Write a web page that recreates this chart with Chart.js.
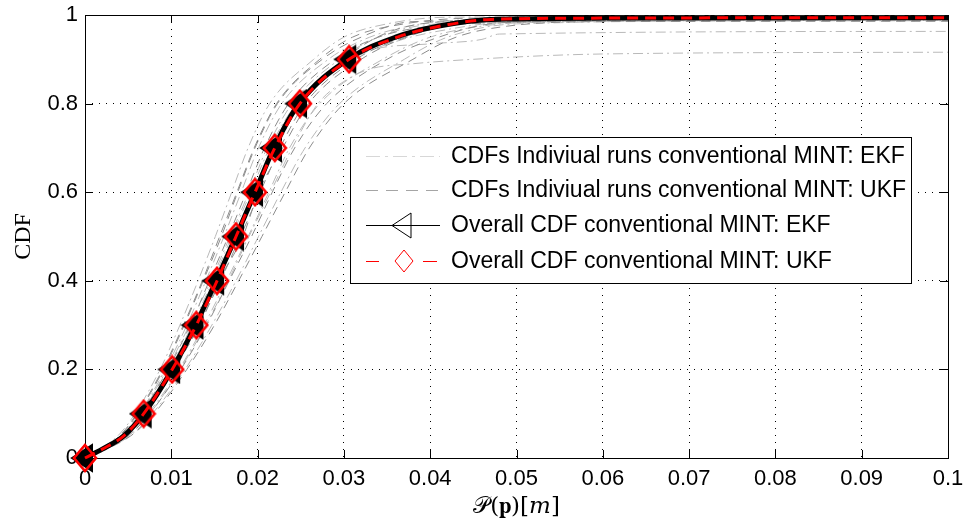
<!DOCTYPE html>
<html>
<head>
<meta charset="utf-8">
<script src="https://cdn.jsdelivr.net/npm/chart.js@4"></script>
<style>
  html, body { margin: 0; padding: 0; background: #fff; }
  #wrap { position: relative; width: 964px; height: 532px; }
</style>
</head>
<body>
<div id="wrap"><canvas id="cdfChart" width="964" height="532"></canvas></div>
<script>
// tick labels
const xTickLabels = ['0', '0.01', '0.02', '0.03', '0.04', '0.05', '0.06', '0.07', '0.08', '0.09', '0.1'];
const yTickLabels = ['0', '0.2', '0.4', '0.6', '0.8', '1'];

// overall CDFs (x read at each CDF level)
const mainLevels = [0, 0.02, 0.05, 0.1, 0.2, 0.3, 0.4, 0.5, 0.6, 0.7, 0.8, 0.9, 0.95, 0.975, 0.99, 0.993, 0.994];
const ekfMainX = [0, 0.002, 0.0045, 0.0068, 0.0101, 0.0128, 0.0152, 0.0175, 0.0197, 0.0219, 0.0248, 0.0305, 0.036, 0.041, 0.047, 0.06, 0.1];
const ukfMainX = [0, 0.002, 0.0045, 0.0068, 0.0101, 0.0129, 0.0153, 0.0175, 0.0197, 0.0220, 0.0249, 0.0306, 0.0362, 0.0412, 0.047, 0.06, 0.1];
const markerLevels = [0, 0.1, 0.2, 0.3, 0.4, 0.5, 0.6, 0.7, 0.8, 0.9];

// individual runs, [x, CDF]
const ekfRuns = [
  [[0, 0], [0.0038, 0.05], [0.0058, 0.1], [0.0087, 0.2], [0.0110, 0.3], [0.0131, 0.4], [0.0151, 0.5], [0.0170, 0.6], [0.0189, 0.7], [0.0214, 0.8], [0.0265, 0.9], [0.030, 0.95], [0.035, 0.98], [0.042, 0.995], [0.1, 0.998]],
  [[0, 0], [0.0041, 0.05], [0.0063, 0.1], [0.0093, 0.2], [0.0118, 0.3], [0.0140, 0.4], [0.0161, 0.5], [0.0181, 0.6], [0.0201, 0.7], [0.0228, 0.8], [0.0282, 0.9], [0.033, 0.95], [0.039, 0.98], [0.046, 0.99], [0.1, 0.992]],
  [[0, 0], [0.0047, 0.05], [0.0070, 0.1], [0.0099, 0.2], [0.0126, 0.3], [0.0150, 0.4], [0.0178, 0.5], [0.0195, 0.6], [0.0222, 0.7], [0.0250, 0.8], [0.0310, 0.9], [0.036, 0.94], [0.040, 0.96], [0.050, 0.985], [0.1, 0.99]],
  [[0, 0], [0.0049, 0.05], [0.0073, 0.1], [0.0109, 0.2], [0.0138, 0.3], [0.0164, 0.4], [0.0189, 0.5], [0.0213, 0.6], [0.0237, 0.7], [0.0272, 0.8], [0.0345, 0.9], [0.040, 0.95], [0.046, 0.975], [0.055, 0.985], [0.1, 0.987]],
  [[0, 0], [0.0052, 0.05], [0.0078, 0.1], [0.0116, 0.2], [0.0147, 0.3], [0.0175, 0.4], [0.0201, 0.5], [0.0227, 0.6], [0.0255, 0.7], [0.0295, 0.8], [0.0370, 0.9], [0.042, 0.95], [0.050, 0.98], [0.1, 0.99]],
  [[0, 0], [0.0050, 0.05], [0.0075, 0.1], [0.0110, 0.2], [0.0140, 0.3], [0.0166, 0.4], [0.0190, 0.5], [0.0215, 0.6], [0.0240, 0.7], [0.0270, 0.8], [0.0300, 0.85], [0.0330, 0.878], [0.038, 0.89], [0.045, 0.9], [0.060, 0.912], [0.1, 0.916]],
  [[0, 0], [0.0045, 0.05], [0.0066, 0.1], [0.0098, 0.2], [0.0124, 0.3], [0.0148, 0.4], [0.0170, 0.5], [0.0192, 0.6], [0.0214, 0.7], [0.0245, 0.8], [0.0290, 0.88], [0.033, 0.92], [0.040, 0.935], [0.046, 0.945], [0.048, 0.957], [0.1, 0.963]],
  [[0, 0], [0.0043, 0.05], [0.0064, 0.1], [0.0095, 0.2], [0.0121, 0.3], [0.0146, 0.4], [0.0168, 0.5], [0.0190, 0.6], [0.0211, 0.7], [0.0240, 0.8], [0.0295, 0.9], [0.034, 0.95], [0.041, 0.98], [0.1, 0.988]]
];
const ukfRuns = [
  [[0, 0], [0.0040, 0.05], [0.0060, 0.1], [0.0090, 0.2], [0.0114, 0.3], [0.0136, 0.4], [0.0156, 0.5], [0.0176, 0.6], [0.0196, 0.7], [0.0222, 0.8], [0.0272, 0.9], [0.031, 0.95], [0.037, 0.98], [0.045, 0.993], [0.1, 0.997]],
  [[0, 0], [0.0043, 0.05], [0.0065, 0.1], [0.0096, 0.2], [0.0122, 0.3], [0.0144, 0.4], [0.0166, 0.5], [0.0187, 0.6], [0.0208, 0.7], [0.0236, 0.8], [0.0290, 0.9], [0.034, 0.95], [0.040, 0.975], [0.050, 0.986], [0.1, 0.987]],
  [[0, 0], [0.0046, 0.05], [0.0070, 0.1], [0.0104, 0.2], [0.0132, 0.3], [0.0157, 0.4], [0.0180, 0.5], [0.0203, 0.6], [0.0226, 0.7], [0.0255, 0.8], [0.0314, 0.9], [0.037, 0.95], [0.043, 0.98], [0.055, 0.99], [0.1, 0.992]],
  [[0, 0], [0.0050, 0.05], [0.0075, 0.1], [0.0111, 0.2], [0.0141, 0.3], [0.0167, 0.4], [0.0193, 0.5], [0.0217, 0.6], [0.0243, 0.7], [0.0280, 0.8], [0.0350, 0.9], [0.041, 0.95], [0.047, 0.98], [0.060, 0.99], [0.1, 0.991]],
  [[0, 0], [0.0053, 0.05], [0.0080, 0.1], [0.0118, 0.2], [0.0150, 0.3], [0.0178, 0.4], [0.0205, 0.5], [0.0232, 0.6], [0.0260, 0.7], [0.0300, 0.8], [0.0380, 0.9], [0.043, 0.95], [0.049, 0.975], [0.060, 0.985], [0.1, 0.986]],
  [[0, 0], [0.0041, 0.05], [0.0061, 0.1], [0.0091, 0.2], [0.0115, 0.3], [0.0137, 0.4], [0.0158, 0.5], [0.0177, 0.6], [0.0197, 0.7], [0.0223, 0.8], [0.0275, 0.9], [0.032, 0.95], [0.038, 0.985], [0.1, 0.995]],
  [[0, 0], [0.0048, 0.05], [0.0071, 0.1], [0.0102, 0.2], [0.0133, 0.3], [0.0155, 0.4], [0.0183, 0.5], [0.0201, 0.6], [0.0229, 0.7], [0.0259, 0.8], [0.0320, 0.9], [0.038, 0.955], [0.044, 0.98], [0.1, 0.993]],
  [[0, 0], [0.0044, 0.05], [0.0067, 0.1], [0.0100, 0.2], [0.0125, 0.3], [0.0151, 0.4], [0.0172, 0.5], [0.0199, 0.6], [0.0218, 0.7], [0.0252, 0.8], [0.0300, 0.9], [0.035, 0.96], [0.042, 0.985], [0.1, 0.996]]
];

const legendLabels = [
  'CDFs Indiviual runs conventional MINT: EKF',
  'CDFs Indiviual runs conventional MINT: UKF',
  'Overall CDF conventional MINT: EKF',
  'Overall CDF conventional MINT: UKF'
];

const EKF_RUN_COLOR = 'rgb(185,185,185)';
const UKF_RUN_COLOR = 'rgb(140,140,140)';
const EKF_RUN_DASH = [10, 4, 2, 4];
const UKF_RUN_DASH = [9, 6];
const SANS = '"Liberation Sans", Arial, sans-serif';
const TICK_FONT = { family: SANS, size: 22 };

// matlab-like markers as small canvases
function makeMarker(w, h, draw) {
  const c = document.createElement('canvas');
  c.width = w; c.height = h;
  draw(c.getContext('2d'));
  return c;
}
const triangleMarker = makeMarker(30, 30, g => {
  g.fillStyle = '#000'; g.strokeStyle = '#000'; g.lineWidth = 2; g.lineJoin = 'miter';
  g.beginPath(); g.moveTo(2, 15); g.lineTo(22, 2); g.lineTo(22, 28); g.closePath();
  g.fill(); g.stroke();
});
const diamondMarker = makeMarker(26, 30, g => {
  g.strokeStyle = 'rgb(255,0,0)'; g.lineWidth = 2.6;
  g.beginPath(); g.moveTo(13, 2); g.lineTo(24, 15); g.lineTo(13, 28); g.lineTo(2, 15); g.closePath();
  g.stroke();
});

const toPoints = pairs => pairs.map(p => ({ x: p[0], y: p[1] }));
const markerRadius = ctx => (ctx.raw && markerLevels.includes(ctx.raw.y)) ? 10 : 0;

const datasets = [];
datasets.push({
  label: legendLabels[3],
  data: ukfMainX.map((x, i) => ({ x: x, y: mainLevels[i] })),
  borderColor: 'rgb(255,0,0)',
  borderWidth: 3,
  borderDash: [11, 7],
  pointStyle: diamondMarker,
  pointRadius: markerRadius,
  cubicInterpolationMode: 'monotone',
  clip: false,
  order: 0
});
datasets.push({
  label: legendLabels[2],
  data: ekfMainX.map((x, i) => ({ x: x, y: mainLevels[i] })),
  borderColor: '#000',
  borderWidth: 5,
  pointStyle: triangleMarker,
  pointRadius: markerRadius,
  cubicInterpolationMode: 'monotone',
  clip: false,
  order: 1
});
ukfRuns.forEach(run => datasets.push({
  label: legendLabels[1],
  data: toPoints(run),
  borderColor: UKF_RUN_COLOR,
  borderWidth: 1,
  borderDash: UKF_RUN_DASH,
  pointRadius: 0,
  cubicInterpolationMode: 'monotone',
  order: 2
}));
ekfRuns.forEach(run => datasets.push({
  label: legendLabels[0],
  data: toPoints(run),
  borderColor: EKF_RUN_COLOR,
  borderWidth: 1,
  borderDash: EKF_RUN_DASH,
  pointRadius: 0,
  cubicInterpolationMode: 'monotone',
  order: 3
}));

// frame box + inward ticks like matlab
const framePlugin = {
  id: 'frame',
  beforeDatasetsDraw(chart) {
    const { ctx, chartArea: a, scales } = chart;
    ctx.save();
    ctx.strokeStyle = '#000';
    ctx.lineWidth = 1;
    ctx.setLineDash([]);
    ctx.beginPath();
    scales.x.ticks.forEach(t => {
      const px = Math.round(scales.x.getPixelForValue(t.value)) + 0.5;
      ctx.moveTo(px, a.bottom); ctx.lineTo(px, a.bottom - 8);
      ctx.moveTo(px, a.top); ctx.lineTo(px, a.top + 8);
    });
    scales.y.ticks.forEach(t => {
      const py = Math.round(scales.y.getPixelForValue(t.value)) + 0.5;
      ctx.moveTo(a.left, py); ctx.lineTo(a.left + 8, py);
      ctx.moveTo(a.right, py); ctx.lineTo(a.right - 8, py);
    });
    ctx.stroke();
    ctx.strokeRect(Math.round(a.left) + 0.5, Math.round(a.top) + 0.5,
      Math.round(a.right - a.left), Math.round(a.bottom - a.top));
    ctx.restore();
  }
};

// legend box drawn by hand (line + marker samples)
const legendPlugin = {
  id: 'matlabLegend',
  afterDraw(chart) {
    const ctx = chart.ctx;
    const box = { x: 350.5, y: 137.5, w: 561, h: 146 };
    const rowY = [156, 190, 225, 261];
    const x0 = 366, x1 = 440, xm = 404, tx = 451;
    ctx.save();
    ctx.fillStyle = '#fff';
    ctx.fillRect(box.x, box.y, box.w, box.h);
    ctx.strokeStyle = '#000';
    ctx.lineWidth = 1;
    ctx.strokeRect(box.x, box.y, box.w, box.h);

    const seg = (y, a, b, color, dash) => {
      ctx.strokeStyle = color; ctx.lineWidth = 1; ctx.setLineDash(dash);
      ctx.beginPath(); ctx.moveTo(a, y + 0.5); ctx.lineTo(b, y + 0.5); ctx.stroke();
      ctx.setLineDash([]);
    };
    seg(rowY[0], x0, x1, 'rgb(215,215,215)', [14, 5, 3, 5]);
    seg(rowY[1], x0, x1, 'rgb(165,165,165)', [12, 8]);
    seg(rowY[2], x0, x1, '#000', []);
    // triangle marker (outline)
    ctx.strokeStyle = '#000'; ctx.lineWidth = 1;
    ctx.beginPath();
    ctx.moveTo(xm - 12, rowY[2] + 0.5); ctx.lineTo(xm + 7, rowY[2] - 12); ctx.lineTo(xm + 7, rowY[2] + 13); ctx.closePath();
    ctx.stroke();
    // red: dash, diamond, dash
    seg(rowY[3], x0, x0 + 13, 'rgb(255,0,0)', []);
    seg(rowY[3], x1 - 17, x1 - 3, 'rgb(255,0,0)', []);
    ctx.strokeStyle = 'rgb(255,0,0)'; ctx.lineWidth = 1;
    ctx.beginPath();
    ctx.moveTo(xm, rowY[3] - 11); ctx.lineTo(xm + 9, rowY[3]); ctx.lineTo(xm, rowY[3] + 11); ctx.lineTo(xm - 9, rowY[3]); ctx.closePath();
    ctx.stroke();

    ctx.fillStyle = '#000';
    ctx.font = '23px ' + SANS;
    ctx.textBaseline = 'middle';
    legendLabels.forEach((t, i) => ctx.fillText(t, tx, rowY[i] + 1));
    ctx.restore();
  }
};

new Chart(document.getElementById('cdfChart'), {
  type: 'line',
  data: { datasets: datasets },
  options: {
    responsive: false,
    animation: false,
    events: [],
    layout: { padding: { top: 14, right: 16, left: 0, bottom: 0 } },
    plugins: { legend: { display: false }, tooltip: { enabled: false } },
    scales: {
      x: {
        type: 'linear',
        min: 0, max: 0.1,
        afterFit: s => { s.height = 74; s.paddingLeft = 0; s.paddingRight = 16; },
        afterBuildTicks: s => { s.ticks = xTickLabels.map(l => ({ value: parseFloat(l) })); },
        ticks: {
          color: '#000', font: TICK_FONT, padding: 8, maxRotation: 0, autoSkip: false,
          callback: (v, i) => xTickLabels[i]
        },
        grid: { color: '#000', lineWidth: 1, drawTicks: false },
        border: { display: false, dash: [1, 6] },
        title: {
          display: true, text: '𝒫(𝐩)[𝑚]', color: '#000',
          font: { family: '"DejaVu Serif", "Liberation Serif", serif', size: 23 },
          padding: { top: 0, bottom: 11 }
        }
      },
      y: {
        type: 'linear',
        min: 0, max: 1,
        afterFit: s => { s.width = 85; s.paddingTop = 14; s.paddingBottom = 0; },
        afterBuildTicks: s => { s.ticks = yTickLabels.map(l => ({ value: parseFloat(l) })); },
        ticks: {
          color: '#000', font: TICK_FONT, padding: 7, autoSkip: false,
          callback: (v, i) => yTickLabels[i]
        },
        grid: { color: '#000', lineWidth: 1, drawTicks: false },
        border: { display: false, dash: [1, 6] },
        title: {
          display: true, text: 'CDF', color: '#000',
          font: { family: '"Liberation Serif", "Times New Roman", serif', size: 24 },
          padding: { top: 9, bottom: 0 }
        }
      }
    }
  },
  plugins: [framePlugin, legendPlugin]
});
</script>
</body>
</html>
